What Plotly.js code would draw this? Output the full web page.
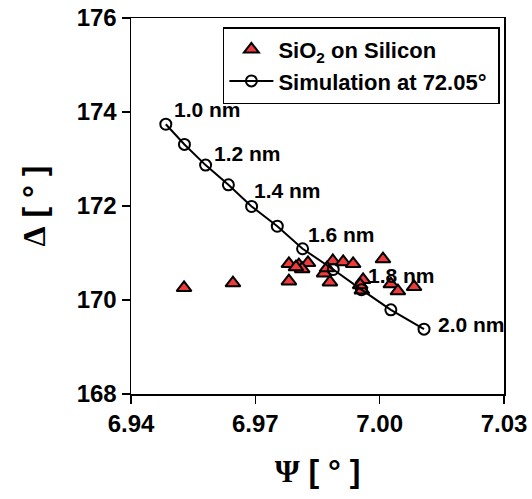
<!DOCTYPE html>
<html>
<head>
<meta charset="utf-8">
<script src="https://cdn.plot.ly/plotly-3.0.1.min.js"></script>
<style>html,body{margin:0;padding:0;background:#fff;}#chart{width:532px;height:499px;}</style>
</head>
<body>
<div id="chart"></div>
<script>
// Measured SiO2 on Silicon
const measPsi = [6.9528, 6.9646, 6.9781, 6.9805, 6.9827, 6.9813, 6.9781, 6.9887, 6.9912, 6.9936,
                 6.9866, 6.9880, 6.9960, 6.9957, 7.0008, 7.0027, 7.0044, 7.0083, 6.9873, 6.9798, 6.9953];
const measDelta = [170.26, 170.36, 170.77, 170.74, 170.79, 170.66, 170.40, 170.83, 170.81, 170.77,
                   170.57, 170.38, 170.43, 170.21, 170.87, 170.34, 170.19, 170.28, 170.68, 170.70, 170.32];
// Simulation at 72.05 deg, thickness 1.0 .. 2.0 nm
const simPsi = [6.9484, 6.9529, 6.9580, 6.9635, 6.9691, 6.9753, 6.9814, 6.9888, 6.9956, 7.0027, 7.0107];
const simDelta = [173.74, 173.31, 172.87, 172.45, 171.99, 171.57, 171.09, 170.65, 170.22, 169.79, 169.38];
// Thickness labels
const labelText = ['1.0 nm', '1.2 nm', '1.4 nm', '1.6 nm', '1.8 nm', '2.0 nm'];
const labelPsi = [6.9499, 6.9595, 6.9692, 6.9822, 6.9967, 7.0136];
const labelDelta = [174.06, 173.11, 172.34, 171.40, 170.53, 169.47];
const xTicks = [6.94, 6.97, 7.00, 7.03];
const yTicks = [168, 170, 172, 174, 176];

const FONT = 'Arial, "Liberation Sans", sans-serif';

const traces = [
  {
    x: measPsi, y: measDelta, type: 'scatter', mode: 'markers',
    name: '<b>SiO<sub>2</sub> on Silicon</b>&nbsp;',
    marker: {symbol: 'triangle-up', size: 13, color: '#ee3b3b', line: {color: '#000', width: 2}}
  },
  {
    x: simPsi, y: simDelta, type: 'scatter', mode: 'lines+markers',
    name: '<b>Simulation at 72.05°</b>&nbsp;',
    line: {color: '#000', width: 2},
    marker: {symbol: 'circle-open', size: 11, color: '#000', line: {color: '#000', width: 2}}
  }
];

const annotations = labelText.map((t, i) => ({
  x: labelPsi[i], y: labelDelta[i], xref: 'x', yref: 'y', text: '<b>' + t + '</b>',
  showarrow: false, xanchor: 'left', yanchor: 'middle',
  font: {family: FONT, size: 21, color: '#000'}
}));

const layout = {
  width: 532, height: 499,
  margin: {l: 131, r: 28, t: 18, b: 105},
  paper_bgcolor: '#fff', plot_bgcolor: '#fff',
  showlegend: true,
  legend: {
    x: 0.989, y: 0.976, xanchor: 'right', yanchor: 'top',
    bordercolor: '#000', borderwidth: 1.5, bgcolor: '#fff',
    font: {family: FONT, size: 22, color: '#000'},
    itemwidth: 44
  },
  xaxis: {
    range: [6.94, 7.03], tickvals: xTicks, ticktext: xTicks.map(v => '<b>' + v.toFixed(2) + '</b>'),
    ticks: 'outside', ticklen: 8, tickwidth: 1.5, tickcolor: '#000',
    showline: true, linecolor: '#000', linewidth: 1.5, mirror: true,
    showgrid: false, zeroline: false,
    tickfont: {family: FONT, size: 24, color: '#000'},
    title: {text: '<b><span style="font-family:Liberation Serif">Ψ</span> [ ° ]</b>', standoff: 23,
            font: {family: FONT, size: 32, color: '#000'}}
  },
  yaxis: {
    range: [168, 176], tickvals: yTicks, ticktext: yTicks.map(v => '<b>' + v + '</b>'),
    ticks: 'outside', ticklen: 8, tickwidth: 1.5, tickcolor: '#000',
    showline: true, linecolor: '#000', linewidth: 1.5, mirror: true,
    showgrid: false, zeroline: false,
    tickfont: {family: FONT, size: 24, color: '#000'},
    title: {text: '<b><span style="font-family:Liberation Serif">Δ</span> [ ° ]</b>', standoff: 21,
            font: {family: FONT, size: 32, color: '#000'}}
  },
  annotations: annotations
};

Plotly.newPlot('chart', traces, layout, {displayModeBar: false, staticPlot: true});
</script>
</body>
</html>
